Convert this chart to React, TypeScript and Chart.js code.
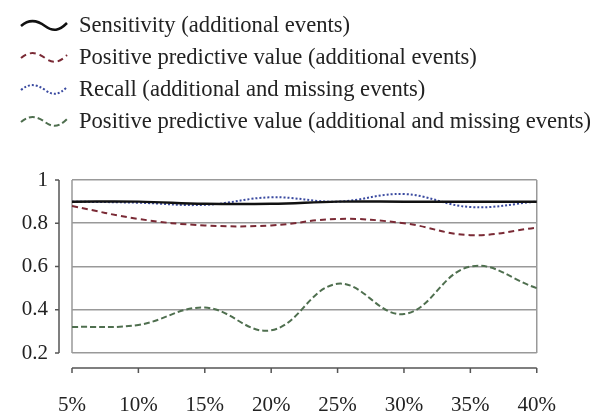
import React, { useEffect, useRef } from "react";
import { Chart, registerables } from "chart.js";

Chart.register(...registerables);

const categories = ["5%", "10%", "15%", "20%", "25%", "30%", "35%", "40%"];
const sensitivityAdditional = [0.9, 0.9, 0.89, 0.89, 0.9, 0.9, 0.9, 0.9];
const ppvAdditional = [0.88, 0.82, 0.79, 0.79, 0.82, 0.8, 0.745, 0.78];
const recallAddMissing = [0.9, 0.895, 0.885, 0.92, 0.9, 0.935, 0.875, 0.9];
const ppvAddMissing = [0.32, 0.33, 0.41, 0.305, 0.52, 0.38, 0.6, 0.5];
const yTicks = [0.2, 0.4, 0.6, 0.8, 1];

const seriesNames = [
  "Sensitivity (additional events)",
  "Positive predictive value (additional events)",
  "Recall (additional and missing events)",
  "Positive predictive value (additional and missing events)",
];

const FONT = '"Liberation Serif", "Times New Roman", serif';

const styles = [
  { color: "#111111", dash: [] as number[], width: 2.5 },
  { color: "#7a2a35", dash: [6, 4], width: 2 },
  { color: "#3a4aa0", dash: [2, 2], width: 2 },
  { color: "#4f6f4f", dash: [6, 3], width: 2 },
];

const axesPlugin = {
  id: "customAxes",
  beforeDatasetsDraw(chart: any) {
    const { ctx, chartArea } = chart;
    ctx.save();
    ctx.strokeStyle = "#999999";
    ctx.lineWidth = 1.5;
    ctx.beginPath();
    ctx.moveTo(chartArea.left, chartArea.top);
    ctx.lineTo(chartArea.left, chartArea.bottom);
    ctx.moveTo(chartArea.right, chartArea.top);
    ctx.lineTo(chartArea.right, chartArea.bottom);
    ctx.stroke();
    ctx.restore();
  },
  afterDraw(chart: any) {
    const { ctx, chartArea } = chart;
    const x = chart.scales.x;
    const y = chart.scales.y;
    ctx.save();
    ctx.strokeStyle = "#555555";
    ctx.lineWidth = 1.5;
    const ax = chartArea.left - 13;
    ctx.beginPath();
    ctx.moveTo(ax, y.getPixelForValue(1));
    ctx.lineTo(ax, y.getPixelForValue(0.2));
    yTicks.forEach((v) => {
      const py = y.getPixelForValue(v);
      ctx.moveTo(ax - 4, py);
      ctx.lineTo(ax, py);
    });
    const ay = chartArea.bottom + 15;
    ctx.moveTo(x.getPixelForValue(0), ay);
    ctx.lineTo(x.getPixelForValue(categories.length - 1), ay);
    categories.forEach((_, i) => {
      const px = x.getPixelForValue(i);
      ctx.moveTo(px, ay);
      ctx.lineTo(px, ay + 5);
    });
    ctx.stroke();
    ctx.restore();
  },
};

function LegendIcon({ color, dash, width }: { color: string; dash: number[]; width: number }) {
  return (
    <svg width={50} height={18} style={{ display: "block" }}>
      <path
        d="M2 10 C 10 3, 18 4, 26 10 S 40 15, 48 7"
        fill="none"
        stroke={color}
        strokeWidth={width}
        strokeDasharray={dash.length ? dash.join(" ") : undefined}
      />
    </svg>
  );
}

export default function App() {
  const canvasRef = useRef<HTMLCanvasElement | null>(null);

  useEffect(() => {
    if (!canvasRef.current) return;
    const data = [sensitivityAdditional, ppvAdditional, recallAddMissing, ppvAddMissing];
    const chart = new Chart(canvasRef.current, {
      type: "line",
      data: {
        labels: categories,
        datasets: data.map((d, i) => ({
          label: seriesNames[i],
          data: d,
          borderColor: styles[i].color,
          borderDash: styles[i].dash,
          borderWidth: styles[i].width,
          pointRadius: 0,
          tension: 0.4,
          fill: false,
        })),
      },
      options: {
        animation: false,
        responsive: false,
        devicePixelRatio: 1,
        layout: { padding: { left: 0, right: 22, top: 180, bottom: 0 } },
        plugins: { legend: { display: false }, tooltip: { enabled: false } },
        scales: {
          x: {
            type: "category",
            offset: false,
            grid: { display: false, drawTicks: false },
            border: { display: false },
            ticks: {
              padding: 40,
              color: "#222222",
              font: { family: FONT, size: 21 },
              maxRotation: 0,
              autoSkip: false,
            },
            afterFit: (s: any) => {
              s.height = 63;
            },
          },
          y: {
            min: 0.2,
            max: 1,
            grid: { color: "#999999", lineWidth: 1.5, drawTicks: false },
            border: { display: false },
            ticks: {
              stepSize: 0.2,
              padding: 24,
              color: "#222222",
              font: { family: FONT, size: 21 },
              callback: (v: any) => String(Math.round(Number(v) * 10) / 10),
            },
            afterFit: (s: any) => {
              s.width = 72;
            },
          },
        },
      },
      plugins: [axesPlugin],
    });
    return () => chart.destroy();
  }, []);

  return (
    <div
      style={{
        position: "fixed",
        left: 0,
        top: 0,
        width: 596,
        height: 416,
        background: "#ffffff",
        overflow: "hidden",
      }}
    >
      <canvas
        ref={canvasRef}
        width={596}
        height={416}
        style={{ position: "absolute", left: 0, top: 0, width: 596, height: 416 }}
      />
      <div style={{ position: "absolute", left: 0, top: 9, fontFamily: FONT, fontSize: 22.6, color: "#222222" }}>
        {seriesNames.map((name, i) => (
          <div
            key={name}
            style={{ display: "flex", alignItems: "center", height: 32, whiteSpace: "nowrap" }}
          >
            <div style={{ width: 19 }} />
            <LegendIcon color={styles[i].color} dash={styles[i].dash} width={i === 0 ? 2.5 : 2} />
            <div style={{ width: 10 }} />
            <span>{name}</span>
          </div>
        ))}
      </div>
    </div>
  );
}
